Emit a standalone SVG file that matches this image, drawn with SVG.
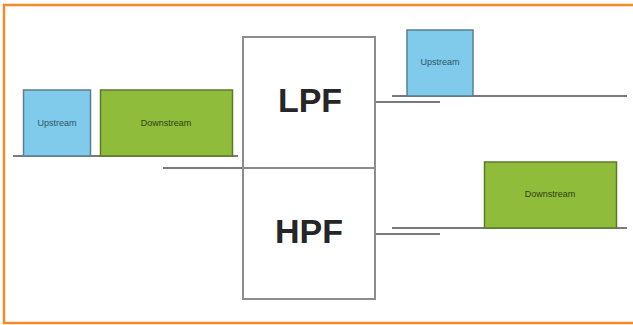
<svg xmlns="http://www.w3.org/2000/svg" width="633" height="325" viewBox="0 0 633 325">
<style>
.frame{fill:none;stroke:#f58a2a;stroke-width:2.5}
.filter{fill:#fff;stroke:#8c8c8e;stroke-width:2}
.line{stroke:#7a7a7c;stroke-width:2;fill:none}
.up{fill:#80cbeb;stroke:#5b7d8c;stroke-width:1.5}
.down{fill:#8fbd3b;stroke:#5d7a2a;stroke-width:1.5}
.big{font-family:"Liberation Sans",Arial,sans-serif;font-weight:bold;font-size:34px;fill:#262626;text-anchor:middle}
.small{font-family:"Liberation Sans",Arial,sans-serif;font-size:9px;text-anchor:middle;dominant-baseline:middle}
.upt{fill:#2d5566}
.dnt{fill:#2f3d16}
</style>
<rect width="633" height="325" fill="#fff"/>
<rect class="frame" x="4" y="5" width="640" height="318"/>
<g id="connectors">
<line class="line" x1="13" y1="156" x2="238" y2="156"/>
<line class="line" x1="163" y1="168" x2="243" y2="168"/>
<line class="line" x1="375" y1="102" x2="440" y2="102"/>
<line class="line" x1="392" y1="96" x2="627" y2="96"/>
<line class="line" x1="375" y1="234" x2="440" y2="234"/>
<line class="line" x1="392" y1="228" x2="627" y2="228"/>
</g>
<g id="lpf">
<rect class="filter" x="243" y="37" width="132" height="131"/>
<text class="big" x="310" y="112">LPF</text>
</g>
<g id="hpf">
<rect class="filter" x="243" y="168" width="132" height="131"/>
<text class="big" x="309" y="243">HPF</text>
</g>
<g id="upstream-in">
<rect class="up" x="23.5" y="90" width="67" height="66"/>
<text class="small upt" x="57" y="124">Upstream</text>
</g>
<g id="downstream-in">
<rect class="down" x="100.5" y="90" width="132" height="66"/>
<text class="small dnt" x="166" y="124">Downstream</text>
</g>
<g id="upstream-out">
<rect class="up" x="407" y="30" width="66" height="66"/>
<text class="small upt" x="440" y="63">Upstream</text>
</g>
<g id="downstream-out">
<rect class="down" x="484.5" y="162" width="132" height="66"/>
<text class="small dnt" x="550" y="195">Downstream</text>
</g>
</svg>
